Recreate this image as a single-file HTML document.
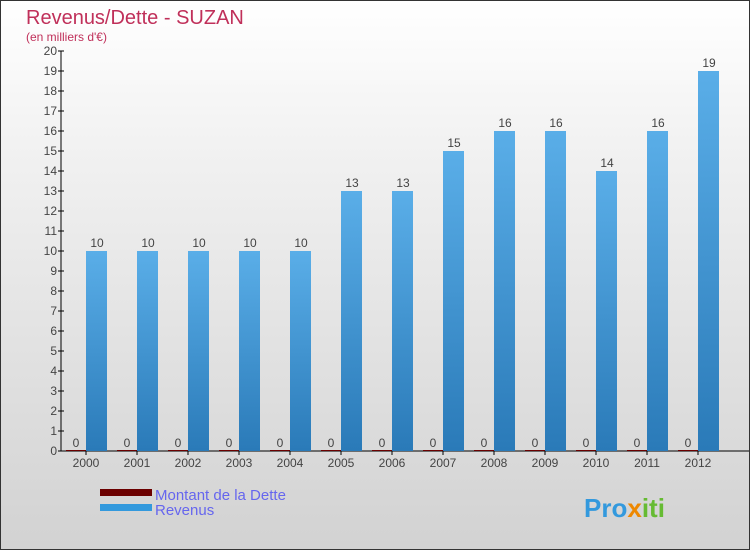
<!DOCTYPE html>
<html><head><meta charset="utf-8"><style>
body{margin:0}
#c{width:748px;height:548px;border:1px solid #333;background:linear-gradient(#ffffff,#f0f0f0 30%,#d2d2d2);position:relative;font-family:"Liberation Sans",sans-serif;overflow:hidden}
</style></head><body>
<div id="c">
<svg width="748" height="548" id="svg">
<text x="25" y="23" font-size="20" fill="#c0305a">Revenus/Dette - SUZAN</text>
<text x="25" y="40" font-size="12" fill="#c0305a">(en milliers d'€)</text>
<g id="g"></g>
<rect x="99" y="488" width="52" height="7" fill="#6b0000"/>
<rect x="99" y="503" width="52" height="7" fill="#3399dd"/>
<text x="154" y="499" font-size="15" fill="#6666ee">Montant de la Dette</text>
<text x="154" y="514" font-size="15" fill="#6666ee">Revenus</text>
<text x="583" y="516" font-size="26" font-weight="bold" fill="#3399dd">Pro<tspan fill="#ee8800">x</tspan><tspan fill="#66bb33">iti</tspan></text>
</svg>
</div>
<script>
const years=["2000","2001","2002","2003","2004","2005","2006","2007","2008","2009","2010","2011","2012"];
const revenus=[10,10,10,10,10,13,13,15,16,16,14,16,19];
const dette=[0,0,0,0,0,0,0,0,0,0,0,0,0];
const yTicks=[0,1,2,3,4,5,6,7,8,9,10,11,12,13,14,15,16,17,18,19,20];
const NS="http://www.w3.org/2000/svg";
const g=document.getElementById('g');
const y=v=>450-v*20, x=i=>85+i*51;
function mk(t,a){const e=document.createElementNS(NS,t);for(const k in a)e.setAttribute(k,a[k]);g.appendChild(e);return e;}
const defs=mk('defs',{});
defs.innerHTML='<linearGradient id="bg" x1="0" y1="0" x2="0" y2="1"><stop offset="0" stop-color="#5aaee8"/><stop offset="1" stop-color="#2a7ab8"/></linearGradient>';
let ax=mk('line',{x1:60,y1:50,x2:60,y2:450,stroke:'#000'});

let bx=mk('line',{x1:60,y1:450,x2:748,y2:450,stroke:'#000'});

yTicks.forEach(v=>{
 const t=mk('line',{x1:57,y1:y(v),x2:63,y2:y(v),stroke:'#000'});
 
 const l=mk('text',{x:56,y:y(v)+4,'font-size':12,fill:'#444','text-anchor':'end'});l.textContent=v;
 
});
years.forEach((yr,i)=>{
 const c=x(i);
 const d=mk('rect',{x:c-20,y:y(dette[i])-1,width:20,height:dette[i]*20+1,fill:'#6b0000'});
 
 const dl=mk('text',{x:c-10,y:y(dette[i])-4,'font-size':12,fill:'#444','text-anchor':'middle'});dl.textContent=dette[i];
 
 const r=mk('rect',{x:c,y:y(revenus[i]),width:21,height:revenus[i]*20,fill:'url(#bg)'});
 
 const rl=mk('text',{x:c+11,y:y(revenus[i])-4,'font-size':12,fill:'#444','text-anchor':'middle'});rl.textContent=revenus[i];
 
 const t=mk('line',{x1:c,y1:450,x2:c,y2:454,stroke:'#000'});
 
 const xl=mk('text',{x:c,y:466,'font-size':12,fill:'#444','text-anchor':'middle'});xl.textContent=yr;
 
});
</script>
</body></html>
